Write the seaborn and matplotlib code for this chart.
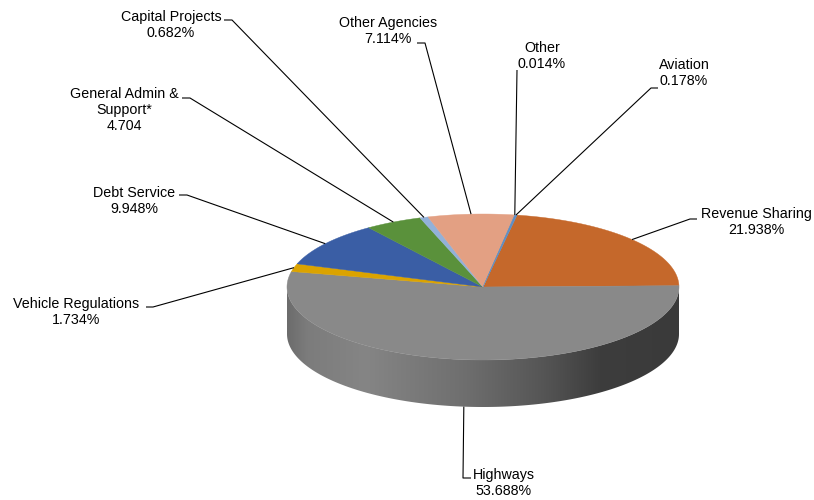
import numpy as np
import matplotlib
matplotlib.use("Agg")
import matplotlib.pyplot as plt
from matplotlib.patches import Polygon
from matplotlib.colors import LinearSegmentedColormap
import seaborn as sns

# Budget shares (percent), listed clockwise starting at Revenue Sharing
categories = ["Revenue Sharing", "Highways", "Vehicle Regulations", "Debt Service",
              "General Admin &\nSupport*", "Capital Projects", "Other Agencies",
              "Other", "Aviation"]
shares = [21.938, 53.688, 1.734, 9.948, 4.704, 0.682, 7.114, 0.014, 0.178]
share_labels = ["21.938%", "53.688%", "1.734%", "9.948%", "4.704", "0.682%",
                "7.114%", "0.014%", "0.178%"]
colors = ["#C5682B", "#898989", "#DBA300", "#3A5EA5", "#5A913B", "#92B1D9",
          "#E3A083", "#A0A0A0", "#5B8DC6"]

sns.set_theme(style="white")
plt.rcParams["font.family"] = ["Liberation Sans", "DejaVu Sans"]

fig = plt.figure(figsize=(8.14, 5.0), dpi=100)
ax = fig.add_axes([0, 0, 1, 1])

# Tilted disc geometry (pixel units)
cx, cy = 483.0, 287.0
rx, ry = 196.0, 73.0
depth = 47.0
start = 80.0  # first wedge starts here and runs clockwise

palette = sns.color_palette(colors)

def pt(theta_deg, dy=0.0):
    t = np.radians(theta_deg)
    return cx + rx * np.cos(t), cy - ry * np.sin(t) + dy

# wedge angle ranges (clockwise => decreasing angle)
vals = np.asarray(shares, dtype=float)
fr = vals / vals.sum() * 360.0
ends = start - np.cumsum(fr)
begins = ends + fr

# side wall of the front half (180..360 deg) with shading
arc = np.linspace(180, 360, 200)
top = np.array([pt(a) for a in arc])
bot = np.array([pt(a, depth) for a in arc[::-1]])
side = Polygon(np.vstack([top, bot]), closed=True, facecolor="none", edgecolor="none")
ax.add_patch(side)
shade = LinearSegmentedColormap.from_list(
    "side", [(0.0, "#6c6c6c"), (0.05, "#7c7c7c"), (0.2, "#858585"),
             (0.45, "#6f6f6f"), (0.65, "#565656"), (0.8, "#3d3d3d"), (1.0, "#3a3a3a")])
grad = np.linspace(0, 1, 256).reshape(1, -1)
img = ax.imshow(grad, cmap=shade, extent=(cx - rx, cx + rx, cy + ry + depth + 2, cy - 5),
                aspect="auto", zorder=1, interpolation="bilinear")
img.set_clip_path(side)

# top face wedges
for b, e, c in zip(begins, ends, palette):
    n = max(int(abs(b - e) * 2), 2)
    angs = np.linspace(b, e, n)
    poly = [(cx, cy)] + [pt(a) for a in angs]
    ax.add_patch(Polygon(poly, closed=True, facecolor=c, edgecolor=c,
                         linewidth=0.3, zorder=2))

# label block centres and the short elbow of each leader line
layout = {
    "Revenue Sharing": dict(xy=(756, 222), elbow=[(697, 219), (690, 219)]),
    "Highways": dict(xy=(504, 483), elbow=[(471, 478), (463, 478)], bottom=True),
    "Vehicle Regulations": dict(xy=(76, 312), elbow=[(146, 307), (153, 307)]),
    "Debt Service": dict(xy=(134, 201), elbow=[(179, 195), (187, 195)]),
    "General Admin &\nSupport*": dict(xy=(124, 110), elbow=[(182, 98), (190, 98)]),
    "Capital Projects": dict(xy=(171, 25), elbow=[(224, 20), (232, 20)]),
    "Other Agencies": dict(xy=(388, 31), elbow=[(417, 43), (425, 43)]),
    "Other": dict(xy=(542, 56), elbow=[(517, 70)]),
    "Aviation": dict(xy=(684, 73), elbow=[(658, 88), (651, 88)]),
}

for name, lab, b, e in zip(categories, share_labels, begins, ends):
    spec = layout[name]
    mid = (b + e) / 2.0
    anchor = pt(mid, depth) if spec.get("bottom") else pt(mid)
    xs = [p[0] for p in spec["elbow"]] + [anchor[0]]
    ys = [p[1] for p in spec["elbow"]] + [anchor[1]]
    ax.plot(xs, ys, color="black", linewidth=0.8, zorder=3, solid_capstyle="butt")
    ax.text(spec["xy"][0], spec["xy"][1], f"{name}\n{lab}", ha="center", va="center",
            fontsize=10.3, color="black", linespacing=1.22, zorder=4)

ax.set_xlim(0, 814)
ax.set_ylim(500, 0)
ax.axis("off")

fig.savefig("out.png", dpi=100)
